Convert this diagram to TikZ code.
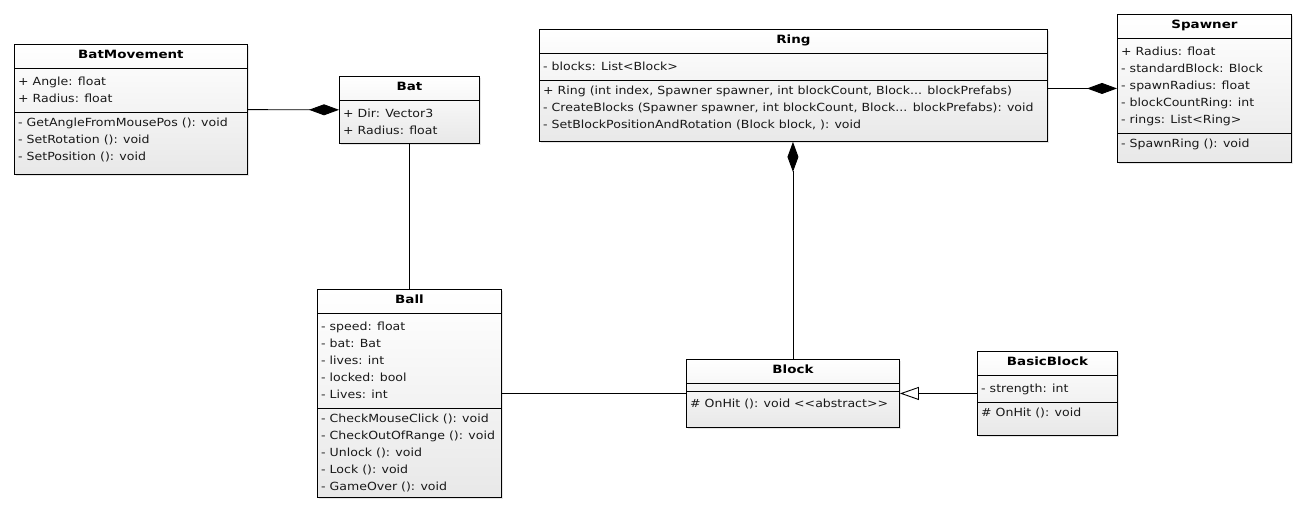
\documentclass[tikz,border=0pt]{standalone}
\usepackage{fontspec}
\setmainfont{DejaVu Sans}
\newfontfamily\umlfont[FakeStretch=1.12]{DejaVu Sans}
\newfontfamily\umlboldfont[FakeStretch=1.18]{DejaVu Sans Bold}
\usetikzlibrary{arrows.meta,shadows}
\tikzset{
  classbox/.style = {rectangle, draw=black, line width=0.9pt, anchor=north west,
    inner sep=0pt, top color=white, bottom color=black!9,
    drop shadow={shadow xshift=2pt, shadow yshift=-2pt, opacity=.2}},
  classname/.style = {anchor=base, inner sep=0pt,
    font=\umlboldfont\fontsize{11.4}{13}\selectfont},
  member/.style = {anchor=base west, inner sep=0pt, text=black!90,
    font=\umlfont\fontsize{11.2}{13}\selectfont},
  divider/.style = {line width=0.9pt},
  assoc/.style = {line width=0.9pt},
  comp/.style = {-{Diamond[length=30pt,width=11pt]}, line width=0.9pt},
  inherit/.style = {-{Triangle[open,length=19pt,width=13pt]}, line width=0.9pt},
}
\begin{document}
\begin{tikzpicture}[x=1pt,y=-1pt]
  \useasboundingbox (0,0) rectangle (1305,512);

  % BatMovement
  \node[classbox, minimum width=233pt, minimum height=130pt] (batmove) at (14,44) {};
  \node[classname] (batmove-name) at ([yshift=-14.5pt]batmove.north) {BatMovement};
  \draw[divider] ([yshift=-24pt]batmove.north west) -- ([yshift=-24pt]batmove.north east);
  \draw[divider] ([yshift=-68pt]batmove.north west) -- ([yshift=-68pt]batmove.north east);
  \foreach \m [count=\i] in {+ Angle: float, + Radius: float}
    \node[member] (batmove-a\i) at ([xshift=4pt,yshift={-24pt-\i*17pt}]batmove.north west) {\m};
  \foreach \m [count=\i] in {- GetAngleFromMousePos (): void, - SetRotation (): void, - SetPosition (): void}
    \node[member] (batmove-m\i) at ([xshift=4pt,yshift={-65pt-\i*17pt}]batmove.north west) {\m};

  % Bat
  \node[classbox, minimum width=140pt, minimum height=67pt] (bat) at (339,76) {};
  \node[classname] (bat-name) at ([yshift=-14.5pt]bat.north) {Bat};
  \draw[divider] ([yshift=-24pt]bat.north west) -- ([yshift=-24pt]bat.north east);
  \foreach \m [count=\i] in {+ Dir: Vector3, + Radius: float}
    \node[member] (bat-a\i) at ([xshift=4pt,yshift={-24pt-\i*17pt}]bat.north west) {\m};

  % Ring
  \node[classbox, minimum width=508pt, minimum height=112pt] (ring) at (539,29) {};
  \node[classname] (ring-name) at ([yshift=-14.5pt]ring.north) {Ring};
  \draw[divider] ([yshift=-24pt]ring.north west) -- ([yshift=-24pt]ring.north east);
  \draw[divider] ([yshift=-51pt]ring.north west) -- ([yshift=-51pt]ring.north east);
  \node[member] (ring-a1) at ([xshift=4pt,yshift=-41pt]ring.north west) {- blocks: List<Block>};
  \node[member] (ring-m1) at ([xshift=4pt,yshift=-65pt]ring.north west)
    {+ Ring (int index, Spawner spawner, int blockCount, Block... blockPrefabs)};
  \node[member] (ring-m2) at ([xshift=4pt,yshift=-82pt]ring.north west)
    {- CreateBlocks (Spawner spawner, int blockCount, Block... blockPrefabs): void};
  \node[member] (ring-m3) at ([xshift=4pt,yshift=-99pt]ring.north west)
    {- SetBlockPositionAndRotation (Block block, ): void};

  % Spawner
  \node[classbox, minimum width=174pt, minimum height=148pt] (spawner) at (1117,14) {};
  \node[classname] (spawner-name) at ([yshift=-14.5pt]spawner.north) {Spawner};
  \draw[divider] ([yshift=-24pt]spawner.north west) -- ([yshift=-24pt]spawner.north east);
  \draw[divider] ([yshift=-119pt]spawner.north west) -- ([yshift=-119pt]spawner.north east);
  \foreach \m [count=\i] in {+ Radius: float, - standardBlock: Block, - spawnRadius: float,
      - blockCountRing: int, - rings: List<Ring>}
    \node[member] (spawner-a\i) at ([xshift=4pt,yshift={-24pt-\i*17pt}]spawner.north west) {\m};
  \node[member] (spawner-m1) at ([xshift=4pt,yshift=-133pt]spawner.north west) {- SpawnRing (): void};

  % Ball
  \node[classbox, minimum width=184pt, minimum height=208pt] (ball) at (317,289) {};
  \node[classname] (ball-name) at ([yshift=-14.5pt]ball.north) {Ball};
  \draw[divider] ([yshift=-24pt]ball.north west) -- ([yshift=-24pt]ball.north east);
  \draw[divider] ([yshift=-119pt]ball.north west) -- ([yshift=-119pt]ball.north east);
  \foreach \m [count=\i] in {- speed: float, - bat: Bat, - lives: int, - locked: bool, - Lives: int}
    \node[member] (ball-a\i) at ([xshift=4pt,yshift={-24pt-\i*17pt}]ball.north west) {\m};
  \foreach \m [count=\i] in {- CheckMouseClick (): void, - CheckOutOfRange (): void,
      - Unlock (): void, - Lock (): void, - GameOver (): void}
    \node[member] (ball-m\i) at ([xshift=4pt,yshift={-116pt-\i*17pt}]ball.north west) {\m};

  % Block
  \node[classbox, minimum width=213pt, minimum height=68pt] (block) at (686,359) {};
  \node[classname] (block-name) at ([yshift=-14.5pt]block.north) {Block};
  \draw[divider] ([yshift=-24pt]block.north west) -- ([yshift=-24pt]block.north east);
  \draw[divider] ([yshift=-32.5pt]block.north west) -- ([yshift=-32.5pt]block.north east);
  \node[member] (block-m1) at ([xshift=4pt,yshift=-48pt]block.north west) {\# OnHit (): void <{}<abstract>{}>};

  % BasicBlock
  \node[classbox, minimum width=140pt, minimum height=84pt] (basic) at (977,351) {};
  \node[classname] (basic-name) at ([yshift=-14.5pt]basic.north) {BasicBlock};
  \draw[divider] ([yshift=-24pt]basic.north west) -- ([yshift=-24pt]basic.north east);
  \draw[divider] ([yshift=-51pt]basic.north west) -- ([yshift=-51pt]basic.north east);
  \node[member] (basic-a1) at ([xshift=4pt,yshift=-41pt]basic.north west) {- strength: int};
  \node[member] (basic-m1) at ([xshift=4pt,yshift=-65pt]basic.north west) {\# OnHit (): void};

  % relations
  \draw[comp] (batmove) -- (bat);
  \draw[comp] (ring.east |- spawner.west) -- (spawner.west);
  \draw[comp] (block.north) -- (block.north |- ring.south);
  \draw[assoc] (bat.south) -- (bat.south |- ball.north);
  \draw[assoc] (ball.east) -- (block.west);
  \draw[inherit] (basic.west) -- (block.east);
\end{tikzpicture}
\end{document}
